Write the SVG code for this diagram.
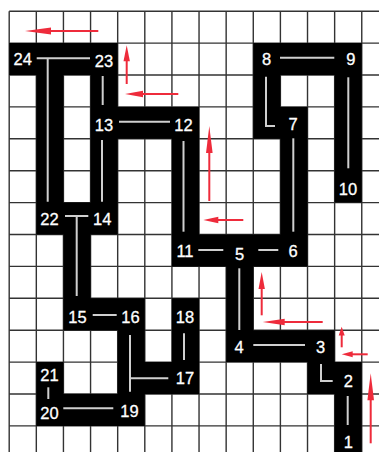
<svg xmlns="http://www.w3.org/2000/svg" width="379" height="452" viewBox="0 0 379 452">
<style>
.grid{stroke:#333;stroke-width:1.4;fill:none}
.maze{fill:#000}
.conn{stroke:#cfcfcf;stroke-width:2;fill:none}
.lbl{fill:#fff;stroke:#fff;stroke-width:0.3;font-family:"Liberation Sans",Arial,sans-serif;font-size:16.5px;text-anchor:middle}
.arr{stroke:#ee2b3b;stroke-width:2;fill:none}
.head{fill:#ee2b3b}
</style>
<rect width="379" height="452" fill="#fff"/>
<g id="grid" class="grid">
<path d="M9.2,11.2V452M36.32,11.2V452M63.44,11.2V452M90.56,11.2V452M117.68,11.2V452M144.8,11.2V452M171.92,11.2V452M199.04,11.2V452M226.16,11.2V452M253.28,11.2V452M280.4,11.2V452M307.52,11.2V452M334.64,11.2V452M361.76,11.2V452"/>
<path d="M9.2,11.2H379M9.2,43.1H379M9.2,75H379M9.2,106.9H379M9.2,138.8H379M9.2,170.7H379M9.2,202.6H379M9.2,234.5H379M9.2,266.4H379M9.2,298.3H379M9.2,330.2H379M9.2,362.1H379M9.2,394H379M9.2,425.9H379"/>
</g>
<g id="maze" class="maze">
<path d="M36.32,43.1H63.44V234.5H36.32Z M90.56,43.1H117.68V234.5H90.56Z M334.64,43.1H361.76V202.6H334.64Z M171.92,106.9H199.04V266.4H171.92Z M280.4,106.9H307.52V266.4H280.4Z M253.28,43.1H280.4V138.8H253.28Z M63.44,202.6H90.56V330.2H63.44Z M226.16,234.5H253.28V362.1H226.16Z M171.92,298.3H199.04V394H171.92Z M117.68,298.3H144.8V425.9H117.68Z M334.64,362.1H361.76V452H334.64Z M36.32,362.1H63.44V425.9H36.32Z M9.2,43.1H117.68V75H9.2Z M253.28,43.1H361.76V75H253.28Z M90.56,106.9H199.04V138.8H90.56Z M253.28,106.9H307.52V138.8H253.28Z M36.32,202.6H117.68V234.5H36.32Z M171.92,234.5H307.52V266.4H171.92Z M63.44,298.3H144.8V330.2H63.44Z M226.16,330.2H334.64V362.1H226.16Z M117.68,362.1H199.04V394H117.68Z M307.52,362.1H361.76V394H307.52Z M36.32,394H144.8V425.9H36.32Z"/>
</g>
<g id="connectors" class="conn">
<path d="M36.7,58.3H90M47.7,58.3V201.7"/>
<path d="M102.7,76V105"/>
<path d="M119,121.7H170"/>
<path d="M102,140V201.7"/>
<path d="M183.5,141V231.7"/>
<path d="M280,57.7H334.3"/>
<path d="M266,76.7V126H275"/>
<path d="M293.3,138.3V231.7"/>
<path d="M348.3,77.3V168.3"/>
<path d="M65,216H88.3M76.7,216V296"/>
<path d="M198.3,250H223.3"/>
<path d="M258.3,250H278.3"/>
<path d="M239.3,268.3V330"/>
<path d="M92.7,315H116.7"/>
<path d="M130,335V391.7M130,378.3H168.3"/>
<path d="M184,333.3V360"/>
<path d="M48.3,387.3V399"/>
<path d="M63.3,408.3H113.3"/>
<path d="M253.3,345H305"/>
<path d="M321,364V381H332.7"/>
<path d="M347.7,396V425"/>
</g>
<g id="n1"><text class="lbl" x="348.3" y="448">1</text></g>
<g id="n2"><text class="lbl" x="348.3" y="386.5">2</text></g>
<g id="n3"><text class="lbl" x="320.5" y="353.3">3</text></g>
<g id="n4"><text class="lbl" x="239.2" y="353.3">4</text></g>
<g id="n5"><text class="lbl" x="239.7" y="259.5">5</text></g>
<g id="n6"><text class="lbl" x="293" y="257">6</text></g>
<g id="n7"><text class="lbl" x="293" y="130">7</text></g>
<g id="n8"><text class="lbl" x="266.7" y="65">8</text></g>
<g id="n9"><text class="lbl" x="350.8" y="65">9</text></g>
<g id="n10"><text class="lbl" x="348" y="195">10</text></g>
<g id="n11"><text class="lbl" x="185" y="257">11</text></g>
<g id="n12"><text class="lbl" x="183.5" y="130.5">12</text></g>
<g id="n13"><text class="lbl" x="104" y="130.5">13</text></g>
<g id="n14"><text class="lbl" x="102.2" y="225">14</text></g>
<g id="n15"><text class="lbl" x="77.5" y="322.7">15</text></g>
<g id="n16"><text class="lbl" x="130.5" y="322.7">16</text></g>
<g id="n17"><text class="lbl" x="185" y="383.5">17</text></g>
<g id="n18"><text class="lbl" x="185" y="322.7">18</text></g>
<g id="n19"><text class="lbl" x="129.5" y="416.7">19</text></g>
<g id="n20"><text class="lbl" x="49.5" y="419.3">20</text></g>
<g id="n21"><text class="lbl" x="49.5" y="380.7">21</text></g>
<g id="n22"><text class="lbl" x="49.5" y="225">22</text></g>
<g id="n23"><text class="lbl" x="104" y="67">23</text></g>
<g id="n24"><text class="lbl" x="22.7" y="65">24</text></g>
<g id="arrows">
<path class="arr" d="M98.3,31H45"/><polygon class="head" points="25,31 51,27.6 51,34.4"/>
<path class="arr" d="M126.7,84V58"/><polygon class="head" points="126.7,45.3 123.5,61.3 129.9,61.3"/>
<path class="arr" d="M178.3,94H140"/><polygon class="head" points="125,94 143,90.8 143,97.2"/>
<path class="arr" d="M209.3,201V148"/><polygon class="head" points="209.3,126 206,153 212.6,153"/>
<path class="arr" d="M243.3,220H215"/><polygon class="head" points="203.3,220 218.3,216.8 218.3,223.2"/>
<path class="arr" d="M261.7,315.3V285"/><polygon class="head" points="261.7,272 258.5,289 264.9,289"/>
<path class="arr" d="M322.7,322H280"/><polygon class="head" points="262.7,322 284.7,318.8 284.7,325.2"/>
<path class="arr" d="M341.7,347.3V332"/><polygon class="head" points="341.7,326.7 338.7,335.5 344.7,335.5"/>
<path class="arr" d="M367.7,354.3H350"/><polygon class="head" points="341.7,354.3 352.7,351.3 352.7,357.3"/>
<path class="arr" d="M370.7,443.3V395"/><polygon class="head" points="370.7,373.3 367.4,400.3 374,400.3"/>
</g>
</svg>
